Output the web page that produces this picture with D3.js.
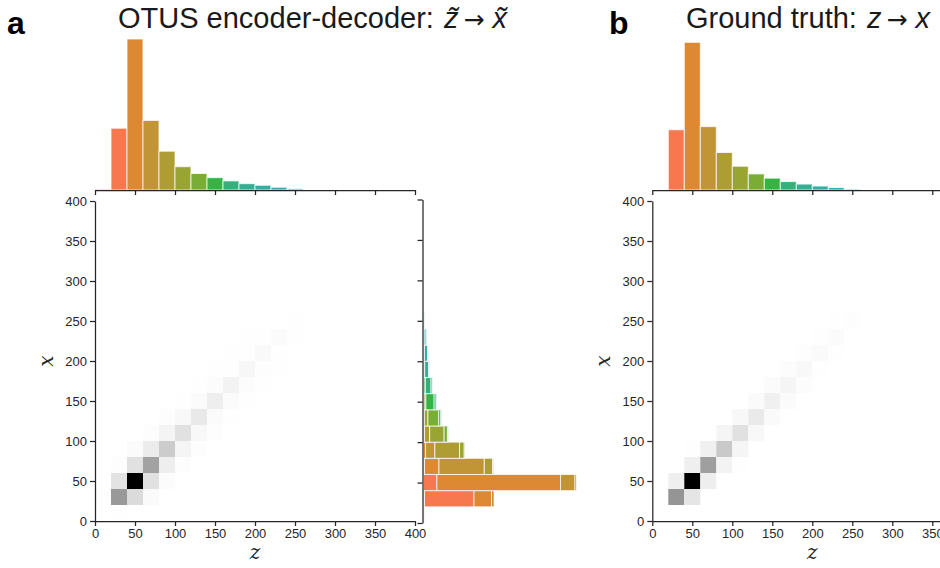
<!DOCTYPE html>
<html><head><meta charset="utf-8">
<script src="https://cdn.jsdelivr.net/npm/d3@7"></script>
<style>
body{margin:0;background:#fff;}
svg text{font-family:"Liberation Sans",Arial,Helvetica,sans-serif;}
</style></head><body>
<svg id="chart" width="940" height="568"></svg>
<script>
// ---- data ----
const binEdges = [0,20,40,60,80,100,120,140,160,180,200,220,240,260];
const axisTicks = [0,50,100,150,200,250,300,350,400];
const binColors = ["#f77189","#f7774f","#dd8833","#c19536","#ae9d32","#99a533","#7aad33","#35b445","#34b07b","#35ae92","#36aca2","#38aab2","#3aa8c1"];
// joint counts, rows = x bins (0-20 ... 240-260), cols = z bins (0-20 ... 240-260)
const jointA = [
  [0,  0.6,0,  0,  0,  0,  0,   0,  0,  0,  0,  0,  0],
  [1,  48, 17, 2.5,0,  0,  0,   0,  0,  0,  0,  0,  0],
  [0,  13, 120,14, 1.5,0,  0,   0,  0,  0,  0,  0,  0],
  [0,  1,  14, 44, 8,  1,  0,   0,  0,  0,  0,  0,  0],
  [0,  0,  2,  9,  24, 4.5,0.8, 0,  0,  0,  0,  0,  0],
  [0,  0,  0,  1,  5,  14, 3.2, 0.8,0,  0,  0,  0,  0],
  [0,  0,  0,  0,  0.8,3.5,10.5,2,  0.6,0,  0,  0,  0],
  [0,  0,  0,  0,  0,  0.6,1.7, 8,  2,  0.5,0,  0,  0],
  [0,  0,  0,  0,  0,  0,  0.5, 1.3,5.5,1.3,0.4,0,  0],
  [0,  0,  0,  0,  0,  0,  0,   0.4,0.7,3.8,1,  0.3,0],
  [0,  0,  0,  0,  0,  0,  0,   0,  0.4,0.5,3,  0.5,0.2],
  [0,  0,  0,  0,  0,  0,  0,   0,  0,  0.3,0.4,1.8,0.6],
  [0,  0,  0,  0,  0,  0,  0,   0,  0,  0,  0,  0.2,0.5]
];
const jointB = [
  [0,  0,  0,  0,  0,  0,  0,   0,  0,  0,  0,  0,  0],
  [0,  53, 13, 0,  0,  0,  0,   0,  0,  0,  0,  0,  0],
  [0,  8,  128,8.4,0,  0,  0,   0,  0,  0,  0,  0,  0],
  [0,  0,  8,  48.4,6, 0.6,0,   0,  0,  0,  0,  0,  0],
  [0,  0,  0.6,7.4,27, 5,  0,   0,  0,  0,  0,  0,  0],
  [0,  0,  0,  0,  5,  15, 3.5, 0,  0,  0,  0,  0,  0],
  [0,  0,  0,  0,  0,  3.5,10.5,2.5,0,  0,  0,  0,  0],
  [0,  0,  0,  0,  0,  0,  2.3, 7.5,2,  0,  0,  0,  0],
  [0,  0,  0,  0,  0,  0,  0,   2,  5,  1.3,0,  0,  0],
  [0,  0,  0,  0,  0,  0,  0,   0,  1.5,3.7,0.7,0,  0],
  [0,  0,  0,  0,  0,  0,  0,   0,  0,  1,  2.6,0.4,0],
  [0,  0,  0,  0,  0,  0,  0,   0,  0,  0,  0.7,1.8,0.2],
  [0,  0,  0,  0,  0,  0,  0,   0,  0,  0,  0,  0.3,0.8]
];
const panelLetters = ["a","b"];
const titleA = ["OTUS encoder-decoder: ", "z\u0303", "\u2192", "x\u0303"];
const titleB = ["Ground truth: ", "z", "\u2192", "x"];
const xLabel = "z";
const yLabel = "x";

// ---- drawing ----
const ink = "#262626";
const W = 940;
const svg = d3.select("#chart");
const colSums = m => m[0].map((_, j) => d3.sum(m, r => r[j]));
const rowSums = m => m.map(r => d3.sum(r));
const topMax = d3.max([...colSums(jointA), ...colSums(jointB)]);

function styleAxis(g){
  g.select(".domain").attr("stroke", ink).attr("stroke-width", 1.25);
  g.selectAll(".tick line").attr("stroke", ink).attr("stroke-width", 1.25);
  g.selectAll(".tick text").attr("fill", ink).attr("font-size", 13)
    .attr("font-family", "'Liberation Sans',Arial,sans-serif");
}

function drawPanel(ox, joint, title, titleX, letter, letterX, withRight){
  const g = svg.append("g").attr("transform", `translate(${ox},201)`);
  const x = d3.scaleLinear().domain([0,400]).range([0,320]);
  const y = d3.scaleLinear().domain([0,400]).range([320,0]);
  // only ticks that fall inside the page (panel b is cut at the right edge)
  const xTicks = axisTicks.filter(t => ox + x(t) <= W);
  const cellMax = d3.max(joint.flat());
  const gray = d3.scaleLinear().domain([0, cellMax]).range(["#ffffff","#000000"]);

  // heatmap cells
  const cells = [];
  joint.forEach((row, i) => row.forEach((v, j) => { if (v > 0) cells.push({i, j, v}); }));
  g.append("g").selectAll("rect").data(cells).join("rect")
    .attr("x", d => x(binEdges[d.j]))
    .attr("y", d => y(binEdges[d.i + 1]))
    .attr("width", d => x(binEdges[d.j + 1]) - x(binEdges[d.j]))
    .attr("height", d => y(binEdges[d.i]) - y(binEdges[d.i + 1]))
    .attr("fill", d => gray(d.v));

  // heatmap axes
  const ax = g.append("g").attr("transform", "translate(0,320)")
    .call(d3.axisBottom(x).tickValues(xTicks).tickSize(5).tickSizeOuter(0).tickPadding(3));
  styleAxis(ax);
  const ay = g.append("g")
    .call(d3.axisLeft(y).tickValues(axisTicks).tickSize(5).tickSizeOuter(0).tickPadding(3));
  styleAxis(ay);

  g.append("text").attr("x", 160).attr("y", 358).attr("text-anchor","middle")
    .attr("font-size", 20).attr("font-style","italic").attr("fill", ink)
    .style("font-family","'DejaVu Serif',serif").text(xLabel);
  g.append("text").attr("transform", "translate(-42,160) rotate(-90)").attr("text-anchor","middle")
    .attr("font-size", 20).attr("font-style","italic").attr("fill", ink)
    .style("font-family","'DejaVu Serif',serif").text(yLabel);

  // top marginal histogram
  const hy = d3.scaleLinear().domain([0, topMax]).range([-11, -162]);
  const cs = colSums(joint);
  g.append("g").selectAll("rect").data(cs.map((v, j) => ({v, j})).filter(d => d.v > 0)).join("rect")
    .attr("x", d => x(binEdges[d.j]))
    .attr("y", d => hy(d.v))
    .attr("width", d => x(binEdges[d.j + 1]) - x(binEdges[d.j]))
    .attr("height", d => hy(0) - hy(d.v))
    .attr("fill", d => binColors[d.j])
    .attr("stroke", "#fff").attr("stroke-opacity", 0.75).attr("stroke-width", 1);
  const ta = g.append("g").attr("transform", "translate(0,-11)")
    .call(d3.axisBottom(x).tickValues(xTicks).tickSize(5).tickSizeOuter(0).tickFormat(""));
  styleAxis(ta);

  // right marginal histogram (stacked by z bin)
  if (withRight) {
    const ry = d3.scaleLinear().domain([0,400]).range([322, -1.5]);
    const rs = rowSums(joint);
    const rx = d3.scaleLinear().domain([0, d3.max(rs)]).range([328.5, 328.5 + 153]);
    const segs = [];
    joint.forEach((row, i) => {
      let cum = 0;
      row.forEach((v, j) => { if (v > 0) { segs.push({i, j, a: cum, b: cum + v}); } cum += v; });
    });
    g.append("g").selectAll("rect").data(segs).join("rect")
      .attr("x", d => rx(d.a))
      .attr("width", d => rx(d.b) - rx(d.a))
      .attr("y", d => ry(binEdges[d.i + 1]))
      .attr("height", d => ry(binEdges[d.i]) - ry(binEdges[d.i + 1]))
      .attr("fill", d => binColors[d.j])
      .attr("stroke", "#fff").attr("stroke-opacity", 0.75).attr("stroke-width", 1);
    const ra = g.append("g").attr("transform", "translate(327.5,0)")
      .call(d3.axisLeft(ry).tickValues(axisTicks).tickSize(5).tickSizeOuter(0).tickFormat(""));
    styleAxis(ra);
  }

  // title and panel letter
  const t = svg.append("text").attr("x", titleX).attr("y", 28).attr("font-size", 29).attr("fill", "#1a1a1a");
  t.append("tspan").text(title[0]);
  t.append("tspan").attr("dx", 2).attr("font-style", "italic").text(title[1]);
  t.append("tspan").attr("dx", 5).style("font-family", "'DejaVu Sans',sans-serif").attr("font-size", 25).text(title[2]);
  t.append("tspan").attr("dx", 8).attr("font-style", "italic").text(title[3]);
  svg.append("text").attr("x", letterX).attr("y", 34).attr("font-size", 32)
    .attr("font-weight", "bold").attr("fill", "#000").text(letter);
}

drawPanel(95, jointA, titleA, 118, panelLetters[0], 7, true);
drawPanel(652.3, jointB, titleB, 686, panelLetters[1], 609, false);
</script>
</body></html>
